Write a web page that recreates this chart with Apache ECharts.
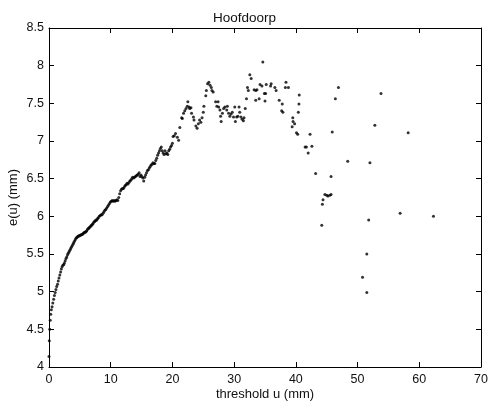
<!DOCTYPE html>
<html>
<head>
<meta charset="utf-8">
<script src="https://cdn.jsdelivr.net/npm/echarts@6/dist/echarts.min.js"></script>
<style>html,body{margin:0;padding:0;background:#fff;}#c{width:489px;height:410px;}</style>
</head>
<body>
<div id="c"></div>
<script>
const titleText = "Hoofdoorp";
const xLabel = "threshold u (mm)";
const yLabel = "e(u) (mm)";
const xTicks = [0, 10, 20, 30, 40, 50, 60, 70];
const yTicks = [4, 4.5, 5, 5.5, 6, 6.5, 7, 7.5, 8, 8.5];

const threshold = [
0.00,0.05,0.12,0.20,0.28,0.38,0.50,0.62,0.75,0.88,1.00,1.12,1.25,1.38,1.50,1.62,1.75,1.88,2.00,2.12,
2.25,2.38,2.50,2.62,2.75,2.88,3.00,3.12,3.25,3.38,3.50,3.62,3.75,3.88,4.00,4.12,4.25,4.38,4.50,4.62,
4.75,4.88,5.00,5.12,5.25,5.38,5.50,5.62,5.75,5.88,6.00,6.12,6.25,6.38,6.50,6.62,6.75,6.88,7.00,7.12,
7.25,7.38,7.50,7.62,7.75,7.88,8.00,8.15,8.30,8.45,8.60,8.75,8.90,9.05,9.20,9.35,9.50,9.65,9.80,9.95,
10.10,10.25,10.40,10.55,10.70,10.85,11.00,11.15,11.30,11.45,11.60,11.75,11.90,12.05,12.20,12.35,12.50,12.65,12.80,12.95,
13.10,13.25,13.40,13.55,13.70,13.85,14.00,14.15,14.30,14.45,14.60,14.75,14.90,15.05,15.20,15.35,15.50,15.65,15.80,15.95,
16.10,16.25,16.40,16.55,16.70,16.85,17.00,17.15,17.30,17.45,17.60,17.75,17.90,18.05,18.20,18.35,18.50,18.65,18.80,18.95,
19.10,19.25,19.40,19.55,19.70,19.85,20.00,
20.1,20.3,20.5,20.8,21.0,21.2,21.5,21.6,21.8,22.0,22.2,22.4,22.5,22.7,22.8,23.0,23.1,23.4,23.5,23.8,
24.0,24.2,24.4,24.6,24.8,25.0,25.1,25.4,25.5,25.7,25.9,26.1,26.3,26.4,26.6,
27.0,27.2,27.4,27.5,27.7,27.8,27.9,28.1,28.3,28.5,28.8,28.9,29.1,29.3,29.5,29.7,29.9,30.1,30.2,30.4,
30.6,30.8,30.9,31.1,31.3,31.5,31.6,31.8,
32.0,32.16,32.3,32.54,32.76,33.24,33.5,33.7,33.5,34.05,34.2,34.5,34.65,34.9,35.1,35.0,35.2,35.9,36.0,36.6,
36.8,37.3,37.7,37.9,37.8,38.3,38.4,38.8,39.4,39.5,39.55,39.8,40.1,40.3,40.4,40.5,40.55,
41.5,41.7,42.0,42.3,42.6,43.2,44.2,44.3,44.4,44.7,45.0,45.2,45.5,45.7,45.7,45.9,46.4,46.9,48.4,
50.8,51.5,51.5,51.8,52.0,52.8,53.8,56.9,58.2,62.3
];
const meanExcess = [
4.14,4.35,4.50,4.62,4.70,4.76,4.80,4.85,4.90,4.95,4.99,5.03,5.07,5.10,5.14,5.18,5.22,5.26,5.30,5.33,
5.35,5.36,5.38,5.41,5.44,5.46,5.49,5.51,5.53,5.55,5.57,5.59,5.61,5.63,5.65,5.67,5.69,5.71,5.72,5.73,
5.74,5.74,5.75,5.75,5.76,5.76,5.77,5.78,5.79,5.79,5.80,5.81,5.83,5.84,5.85,5.86,5.87,5.88,5.89,5.90,
5.92,5.93,5.94,5.95,5.95,5.97,5.98,6.00,6.01,6.02,6.02,6.04,6.06,6.08,6.09,6.11,6.13,6.15,6.17,6.19,
6.20,6.21,6.20,6.21,6.20,6.21,6.22,6.21,6.25,6.30,6.34,6.36,6.37,6.37,6.39,6.41,6.42,6.44,6.43,6.45,
6.47,6.48,6.50,6.52,6.51,6.52,6.53,6.54,6.55,6.56,6.58,6.53,6.55,6.53,6.51,6.47,6.52,6.55,6.58,6.61,
6.62,6.64,6.66,6.68,6.69,6.71,6.70,6.70,6.74,6.77,6.81,6.84,6.87,6.90,6.92,6.87,6.84,6.82,6.87,6.83,
6.84,6.82,6.87,6.89,6.92,6.94,6.97,
7.06,7.07,7.10,7.05,7.01,7.18,7.31,7.30,7.37,7.40,7.43,7.46,7.52,7.45,7.43,7.44,7.37,7.32,7.28,7.20,
7.17,7.23,7.28,7.25,7.31,7.38,7.46,7.60,7.67,7.76,7.78,7.74,7.71,7.67,7.65,
7.52,7.46,7.52,7.45,7.41,7.33,7.26,7.37,7.43,7.45,7.41,7.46,7.37,7.33,7.36,7.38,7.32,7.45,7.26,7.32,
7.33,7.45,7.38,7.32,7.29,7.27,7.31,7.43,
7.56,7.71,7.67,7.88,7.83,7.68,7.67,7.68,7.54,7.56,7.75,7.73,8.05,7.63,7.63,7.53,7.75,7.73,7.76,7.71,
7.67,7.54,7.40,7.38,7.49,7.71,7.78,7.71,7.19,7.31,7.26,7.23,7.11,7.09,7.38,7.49,7.61,
6.92,6.92,6.84,7.09,6.93,6.57,5.88,6.16,6.22,6.29,6.28,6.27,6.28,6.29,6.53,7.12,7.56,7.71,6.73,
5.19,4.99,5.50,5.95,6.71,7.21,7.63,6.04,7.11,6.00
];

const points = threshold.map((u, i) => [u, meanExcess[i]]);

const fontFam = "'Liberation Sans', Arial, Helvetica, sans-serif";
const axisCommon = {
  axisLine: { show: true, onZero: false, lineStyle: { color: '#000', width: 1 } },
  axisTick: { show: true, inside: true, length: 5, lineStyle: { color: '#000' } },
  splitLine: { show: false }
};
const chart = echarts.init(document.getElementById('c'), null, { renderer: 'canvas' });
chart.setOption({
  animation: false,
  backgroundColor: '#fff',
  title: {
    text: titleText, left: 'center', top: 6,
    textStyle: { fontFamily: fontFam, fontSize: 13.5, fontWeight: 'normal', color: '#111' }
  },
  grid: { left: 49, right: 8, top: 28, bottom: 43, containLabel: false, outerBoundsMode: 'none' },
  xAxis: [
    Object.assign({}, axisCommon, {
      type: 'value', position: 'bottom', min: xTicks[0], max: xTicks[xTicks.length - 1], interval: 10,
      name: xLabel, nameLocation: 'middle', nameGap: 21, nameMoveOverlap: false,
      nameTextStyle: { fontFamily: fontFam, fontSize: 13, color: '#111' },
      axisLabel: { fontFamily: fontFam, fontSize: 12.5, color: '#111', margin: 6 }
    }),
    Object.assign({}, axisCommon, {
      type: 'value', position: 'top', min: xTicks[0], max: xTicks[xTicks.length - 1], interval: 10,
      axisLabel: { show: false }
    })
  ],
  yAxis: [
    Object.assign({}, axisCommon, {
      type: 'value', position: 'left', min: yTicks[0], max: yTicks[yTicks.length - 1], interval: 0.5,
      name: yLabel, nameLocation: 'middle', nameGap: 29, nameRotate: 90, nameMoveOverlap: false,
      nameTextStyle: { fontFamily: fontFam, fontSize: 13, color: '#111' },
      axisLabel: { fontFamily: fontFam, fontSize: 12.5, color: '#111', margin: 5 }
    }),
    Object.assign({}, axisCommon, {
      type: 'value', position: 'right', min: yTicks[0], max: yTicks[yTicks.length - 1], interval: 0.5,
      axisLabel: { show: false }
    })
  ],
  series: [{
    type: 'scatter',
    data: points,
    symbol: 'circle',
    symbolSize: 3,
    itemStyle: { color: '#000' }
  }]
});
</script>
</body>
</html>
